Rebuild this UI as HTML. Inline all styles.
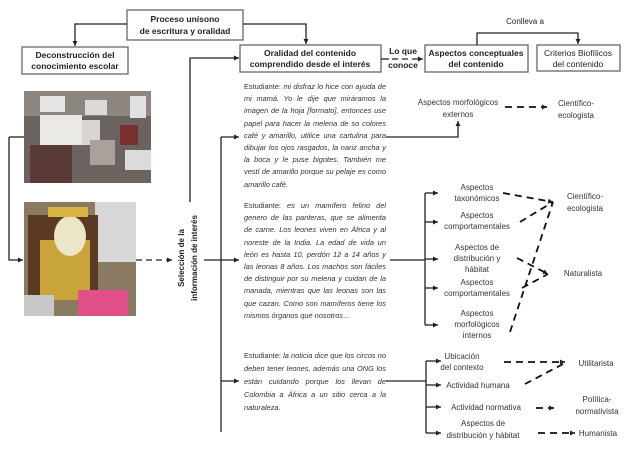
<!DOCTYPE html>
<html><head><meta charset="utf-8"><style>
html,body{margin:0;padding:0;background:#fff;}
svg{display:block;font-family:"Liberation Sans",sans-serif;}
.t{position:absolute;left:244px;width:142px;font-family:"Liberation Sans",sans-serif;font-size:7.4px;line-height:12.2px;font-style:italic;color:#333;text-align:justify;text-align-last:left;}
.t span{font-style:normal;}
</style></head><body>
<div style="position:relative;width:624px;height:452px;overflow:hidden">
<svg width="624" height="452" viewBox="0 0 624 452" xmlns="http://www.w3.org/2000/svg">
<defs>
<marker id="a" markerWidth="6" markerHeight="6" refX="5" refY="3" orient="auto" markerUnits="userSpaceOnUse"><path d="M0,0.5 L5,3 L0,5.5z" fill="#222"/></marker>
</defs>
<rect width="624" height="452" fill="#fff"/>
<g fill="#fff" stroke="#666" stroke-width="1.3">
<rect x="127" y="10" width="116" height="30"/>
<rect x="22" y="47" width="106" height="27"/>
<rect x="240" y="45" width="141" height="27"/>
<rect x="425" y="45" width="103" height="27"/>
<rect x="537" y="45" width="83" height="26"/>
</g>
<g font-size="8.5" font-weight="bold" fill="#222" text-anchor="middle">
<text x="185" y="22">Proceso unísono</text>
<text x="185" y="34">de escritura y oralidad</text>
<text x="75" y="58">Deconstrucción del</text>
<text x="75" y="69">conocimiento escolar</text>
<text x="310" y="56">Oralidad del contenido</text>
<text x="310" y="67">comprendido desde el interés</text>
<text x="476" y="56">Aspectos conceptuales</text>
<text x="476" y="67">del contenido</text>
<text x="403" y="54">Lo que</text>
<text x="403" y="68">conoce</text>
</g>
<g font-size="8.5" fill="#222" text-anchor="middle">
<text x="578" y="56">Criterios Biofílicos</text>
<text x="578" y="67">del contenido</text>
<text x="525" y="24" font-size="8">Conlleva a</text>
</g>
<g stroke="#222" stroke-width="1.3" fill="none">
<path d="M127 24 H75 V46" marker-end="url(#a)"/>
<path d="M243 24 H306 V44" marker-end="url(#a)"/>
<path d="M477 45 V33 H578 V44" marker-end="url(#a)"/>
<path d="M381 59 H389"/>
<path d="M392 59 H423" stroke-dasharray="6,4" marker-end="url(#a)"/>
<path d="M190 202 V58 H239" marker-end="url(#a)"/>
<path d="M9 137 H24"/>
<path d="M9 137 V260 H23" marker-end="url(#a)"/>
<path d="M136 260 H172" stroke-dasharray="6,4" marker-end="url(#a)"/>
<path d="M204 260 H239" marker-end="url(#a)"/>
<path d="M221 137 V432"/>
<path d="M221 137 H239" marker-end="url(#a)"/>
<path d="M221 381 H239" marker-end="url(#a)"/>
<path d="M386 137 H458 V121" marker-end="url(#a)"/>
<path d="M390 260 H425"/>
<path d="M425 193 V325"/>
<path d="M425 193 H438" marker-end="url(#a)"/>
<path d="M425 222 H438" marker-end="url(#a)"/>
<path d="M425 259 H438" marker-end="url(#a)"/>
<path d="M425 288 H438" marker-end="url(#a)"/>
<path d="M425 325 H438" marker-end="url(#a)"/>
<path d="M386 381 H426"/>
<path d="M426 361 V433"/>
<path d="M426 361 H441" marker-end="url(#a)"/>
<path d="M426 385 H441" marker-end="url(#a)"/>
<path d="M426 407 H441" marker-end="url(#a)"/>
<path d="M426 433 H441" marker-end="url(#a)"/>
</g>
<g stroke="#111" stroke-width="1.8" fill="none" stroke-dasharray="7,5">
<path d="M505 107 H547" marker-end="url(#a)"/>
<path d="M503 193 L553 202" marker-end="url(#a)"/>
<path d="M520 222 L553 202"/>
<path d="M510 332 L553 202"/>
<path d="M517 258 L548 274" marker-end="url(#a)"/>
<path d="M522 288 L548 274"/>
<path d="M504 362 H565" marker-end="url(#a)"/>
<path d="M525 384 L565 363"/>
<path d="M536 408 H554" marker-end="url(#a)"/>
<path d="M538 433 H575" marker-end="url(#a)"/>
</g>
<g font-size="8" fill="#333" text-anchor="middle">
<text x="458" y="105">Aspectos morfológicos</text>
<text x="458" y="117">externos</text>
<text x="576" y="106">Científico-</text>
<text x="576" y="118">ecologista</text>
<text x="477" y="190">Aspectos</text>
<text x="477" y="201">taxonómicos</text>
<text x="477" y="218">Aspectos</text>
<text x="477" y="229">comportamentales</text>
<text x="477" y="250">Aspectos de</text>
<text x="477" y="261">distribución y</text>
<text x="477" y="272">hábitat</text>
<text x="477" y="285">Aspectos</text>
<text x="477" y="296">comportamentales</text>
<text x="477" y="316">Aspectos</text>
<text x="477" y="327">morfológicos</text>
<text x="477" y="338">internos</text>
<text x="585" y="199">Científico-</text>
<text x="585" y="211">ecologista</text>
<text x="583" y="276">Naturalista</text>
<text x="462" y="359">Ubicación</text>
<text x="462" y="370">del contexto</text>
<text x="478" y="388">Actividad humana</text>
<text x="486" y="410">Actividad normativa</text>
<text x="483" y="426">Aspectos de</text>
<text x="483" y="438">distribución y hábitat</text>
<text x="596" y="366">Utilitarista</text>
<text x="597" y="402">Política-</text>
<text x="597" y="414">normativista</text>
<text x="598" y="436">Humanista</text>
</g>
<g font-size="8" fill="#222" font-weight="bold" text-anchor="middle">
<text transform="translate(184,258) rotate(-90)">Selección de la</text>
<text transform="translate(197,258) rotate(-90)">información de interés</text>
</g>
<!-- photo 1 -->
<g>
<rect x="24" y="91" width="127" height="92" fill="#6a6360"/>
<rect x="24" y="91" width="127" height="25" fill="#8d8580"/>
<rect x="40" y="96" width="25" height="16" fill="#e8e6e4"/>
<rect x="85" y="100" width="22" height="15" fill="#dcdad8"/>
<rect x="130" y="96" width="16" height="22" fill="#e0e0e0"/>
<rect x="40" y="115" width="42" height="30" fill="#ebe9e6"/>
<rect x="82" y="120" width="18" height="25" fill="#d8d6d3"/>
<rect x="30" y="145" width="42" height="38" fill="#5a3a35"/>
<rect x="90" y="140" width="25" height="25" fill="#aaa29a"/>
<rect x="125" y="150" width="26" height="20" fill="#dcdada"/>
<rect x="120" y="125" width="18" height="20" fill="#7a3030"/>
</g>
<!-- photo 2 -->
<g>
<rect x="24" y="202" width="112" height="114" fill="#8a7a62"/>
<rect x="95" y="202" width="41" height="60" fill="#d8d8d8"/>
<rect x="28" y="215" width="70" height="85" fill="#5a3a22"/>
<rect x="40" y="240" width="50" height="60" fill="#c8a43a"/>
<ellipse cx="70" cy="236" rx="16" ry="20" fill="#ece6c8"/>
<rect x="48" y="207" width="40" height="10" fill="#d8b540"/>
<rect x="24" y="295" width="30" height="21" fill="#c8c8c8"/>
<rect x="78" y="290" width="50" height="26" fill="#e2508a"/>
</g>
</svg>
<div class="t" style="top:81px"><span>Estudiante:</span> mi disfraz lo hice con ayuda de mi mamá. Yo le dije que miráramos la imagen de la hoja [formato], entonces use papel para hacer la melena de so colores café y amarillo, utilice una cartulina para dibujar los ojos rasgados, la nariz ancha y la boca y le puse bigotes. También me vestí de amarillo porque su pelaje es como amarillo café.</div>
<div class="t" style="top:200px"><span>Estudiante:</span> es un mamífero felino del genero de las panteras, que se alimenta de carne. Los leones viven en África y al noreste de la India. La edad de vida un león es hasta 10, perdón 12 a 14 años y las leonas 8 años. Los machos son fáciles de distinguir por su melena y cuidan de la manada, mientras que las leonas son las que cazan. Como son mamíferos tiene los mismos órganos que nosotros…</div>
<div class="t" style="top:349px;line-height:13px"><span>Estudiante:</span> la noticia dice que los circos no deben tener leones, además una ONG los están cuidando porque los llevan de Colombia a África a un sitio cerca a la naturaleza.</div>
</div>
</body></html>
